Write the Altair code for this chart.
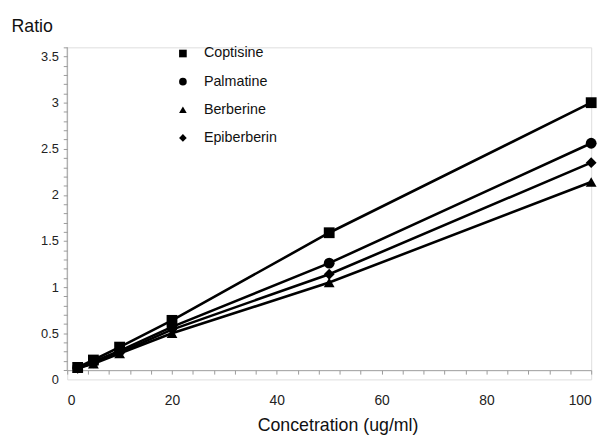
import altair as alt
import pandas as pd

conc = [2, 5, 10, 20, 50, 100]
compounds = ["Coptisine", "Palmatine", "Berberine", "Epiberberin"]
coptisine = [0.13, 0.21, 0.35, 0.64, 1.59, 3.00]
palmatine = [0.13, 0.19, 0.31, 0.57, 1.26, 2.56]
berberine = [0.12, 0.17, 0.28, 0.50, 1.05, 2.14]
epiberberin = [0.12, 0.18, 0.29, 0.54, 1.14, 2.35]
shapes = ["square", "circle", "triangle-up", "diamond"]

x_ticks = list(range(0, 101, 4))
y_ticks = [round(i * 0.1, 1) for i in range(0, 37)]

series = dict(zip(compounds, [coptisine, palmatine, berberine, epiberberin]))
rows = []
for name in compounds:
    for c, r in zip(conc, series[name]):
        rows.append({"conc": c, "ratio": r, "compound": name})
df = pd.DataFrame(rows)

FONT = "Liberation Sans"
AX = "#9a9a9a"

x_enc = alt.X(
    "conc:Q",
    scale=alt.Scale(domain=[0, 100], nice=False),
    axis=alt.Axis(
        values=x_ticks,
        tickCount=500,
        labelOverlap=False,
        labelExpr="datum.value % 20 == 0 ? format(datum.value, 'd') : ''",
        offset=-9.35,
        grid=False,
        domainColor=AX,
        tickColor=AX,
        tickSize=4,
        labelPadding=20,
        labelFontSize=14,
        labelColor="#222",
        labelFont=FONT,
        title="Concetration (ug/ml)",
        titleFont=FONT,
        titleFontSize=18,
        titleFontWeight="normal",
        titleColor="#111",
        titleX=274,
        titleY=61,
        titleAlign="center",
        titleBaseline="alphabetic",
    ),
)
y_enc = alt.Y(
    "ratio:Q",
    scale=alt.Scale(domain=[0, 3.6], nice=False),
    axis=alt.Axis(
        values=y_ticks,
        tickCount=500,
        labelOverlap=False,
        labelExpr="abs(datum.value*2 - round(datum.value*2)) < 0.001 ? format(datum.value, '.1~f') : ''",
        domain=False,
        grid=False,
        tickColor=AX,
        tickOpacity={"condition": {"test": "datum.value < 0.05", "value": 0}, "value": 1},
        tickSize=4,
        labelPadding=5,
        labelFontSize=13,
        labelColor="#222",
        labelFont=FONT,
        title="Ratio",
        titleFont=FONT,
        titleFontSize=18,
        titleFontWeight="normal",
        titleColor="#111",
        titleAngle=0,
        titleX=-57,
        titleY=-16,
        titleAlign="left",
        titleBaseline="alphabetic",
    ),
)

base = alt.Chart(df)

lines = base.mark_line(color="black", strokeWidth=2.6).encode(
    x=x_enc, y=y_enc, detail="compound:N"
)
points = base.mark_point(filled=True, color="black", opacity=1, size=120).encode(
    x="conc:Q",
    y="ratio:Q",
    shape=alt.Shape(
        "compound:N",
        scale=alt.Scale(domain=compounds, range=shapes),
        legend=alt.Legend(
            orient="none",
            legendX=110,
            legendY=-1,
            title=None,
            symbolSize=60,
            symbolFillColor="black",
            symbolStrokeWidth=0,
            labelFontSize=14.5,
            labelFont=FONT,
            labelColor="#111",
            labelOffset=14,
            rowPadding=13.5,
        ),
    ),
)
yaxis_line = alt.Chart(pd.DataFrame({"a": [0]})).mark_rule(color=AX, strokeWidth=1).encode(
    x=alt.datum(0), y=alt.datum(0.1), y2=alt.datum(3.6)
)

chart = (
    alt.layer(lines, points, yaxis_line)
    .properties(
        width=531,
        height=336.5,
        autosize="none",
        padding={"left": 60, "top": 37, "right": 14, "bottom": 55},
    )
    .configure_view(stroke=None)
    .configure(background="white")
)

chart.save("out.html", embed_options={"renderer": "svg", "actions": False})
